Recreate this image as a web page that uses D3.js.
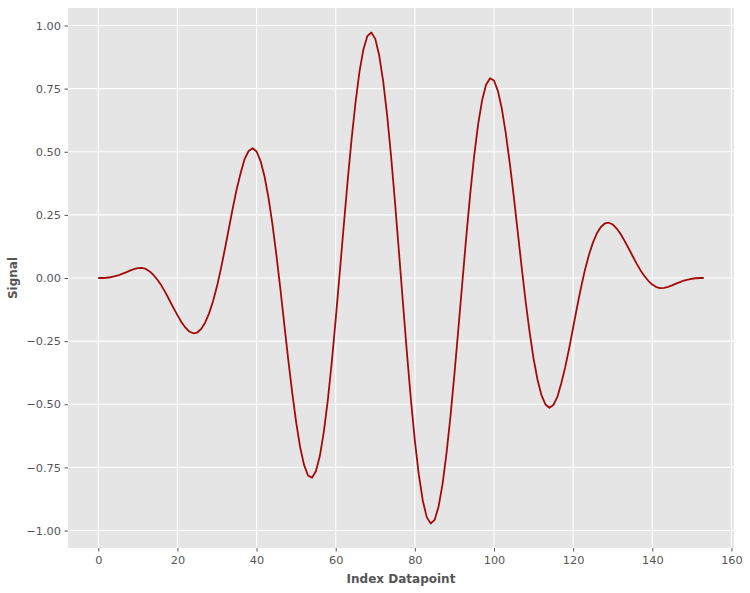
<!DOCTYPE html>
<html>
<head>
<meta charset="utf-8">
<script src="https://cdn.jsdelivr.net/npm/d3@7"></script>
<style>
  html, body { margin: 0; padding: 0; background: #ffffff; }
  svg { display: block; font-family: "DejaVu Sans", sans-serif; }
</style>
</head>
<body>
<svg id="chart" width="750" height="593"></svg>
<script>
// ---- data ----
const signal = [
  0.000, 0.000, 0.001, 0.003, 0.006, 0.010, 0.016, 0.022, 0.029, 0.035,
  0.039, 0.040, 0.036, 0.026, 0.011, -0.008, -0.031, -0.058, -0.088, -0.118,
  -0.147, -0.174, -0.196, -0.212, -0.219, -0.216, -0.202, -0.177, -0.140, -0.092,
  -0.033, 0.037, 0.115, 0.196, 0.278, 0.353, 0.417, 0.472, 0.503, 0.514,
  0.501, 0.464, 0.403, 0.319, 0.214, 0.093, -0.041, -0.183, -0.322, -0.453,
  -0.571, -0.669, -0.740, -0.782, -0.791, -0.765, -0.704, -0.609, -0.485, -0.334,
  -0.164, 0.018, 0.201, 0.381, 0.548, 0.694, 0.816, 0.905, 0.958, 0.972,
  0.947, 0.881, 0.779, 0.644, 0.481, 0.297, 0.100, -0.100, -0.297, -0.481,
  -0.644, -0.779, -0.881, -0.947, -0.972, -0.958, -0.905, -0.816, -0.694, -0.548,
  -0.381, -0.201, -0.018, 0.164, 0.334, 0.485, 0.609, 0.704, 0.765, 0.791,
  0.782, 0.740, 0.669, 0.571, 0.453, 0.322, 0.183, 0.041, -0.093, -0.214,
  -0.319, -0.403, -0.464, -0.501, -0.514, -0.503, -0.472, -0.417, -0.353, -0.278,
  -0.196, -0.115, -0.037, 0.033, 0.092, 0.140, 0.177, 0.202, 0.216, 0.219,
  0.212, 0.196, 0.174, 0.147, 0.118, 0.088, 0.058, 0.031, 0.008, -0.011,
  -0.026, -0.036, -0.040, -0.039, -0.035, -0.029, -0.022, -0.016, -0.010, -0.006,
  -0.003, -0.001, 0.000, 0.000
];
const xTicks = [0, 20, 40, 60, 80, 100, 120, 140, 160];
const yTicks = [-1.00, -0.75, -0.50, -0.25, 0.00, 0.25, 0.50, 0.75, 1.00];
const xLabel = "Index Datapoint";
const yLabel = "Signal";

// ---- layout ----
const W = 750, H = 593;
const plot = { left: 68, right: 734, top: 8, bottom: 548 };

const svg = d3.select("#chart");

const n = signal.length;
const xPad = (n - 1) * 0.05;
const yExt = d3.extent(signal);
const yPad = (yExt[1] - yExt[0]) * 0.05;

const x = d3.scaleLinear().domain([-xPad, (n - 1) + xPad]).range([plot.left, plot.right]);
const y = d3.scaleLinear().domain([yExt[0] - yPad, yExt[1] + yPad]).range([plot.bottom, plot.top]);

// background
svg.append("rect")
  .attr("x", plot.left).attr("y", plot.top)
  .attr("width", plot.right - plot.left).attr("height", plot.bottom - plot.top)
  .attr("fill", "#E5E5E5");

// grid
const grid = svg.append("g");
grid.selectAll("line.gx").data(xTicks).join("line")
  .attr("x1", d => x(d)).attr("x2", d => x(d))
  .attr("y1", plot.top).attr("y2", plot.bottom)
  .attr("stroke", "#ffffff").attr("stroke-width", 1.1);
grid.selectAll("line.gy").data(yTicks).join("line")
  .attr("y1", d => y(d)).attr("y2", d => y(d))
  .attr("x1", plot.left).attr("x2", plot.right)
  .attr("stroke", "#ffffff").attr("stroke-width", 1.1);

// axes
const xAxis = d3.axisBottom(x).tickValues(xTicks).tickSize(3.5).tickPadding(4).tickFormat(d3.format("d"));
const yAxis = d3.axisLeft(y).tickValues(yTicks).tickSize(3.5).tickPadding(3.5).tickFormat(d3.format(".2f"));

const gx = svg.append("g").attr("transform", `translate(0,${plot.bottom})`).call(xAxis);
const gy = svg.append("g").attr("transform", `translate(${plot.left},0)`).call(yAxis);
[gx, gy].forEach(g => {
  g.select(".domain").remove();
  g.selectAll(".tick line").attr("stroke", "#555555").attr("stroke-width", 1);
  g.selectAll(".tick text")
    .attr("fill", "#555555")
    .style("font-family", "'DejaVu Sans', sans-serif")
    .style("font-size", "11.3px");
});

// signal line
const line = d3.line()
  .x((d, i) => x(i))
  .y(d => y(d));
svg.append("path")
  .datum(signal)
  .attr("d", line)
  .attr("fill", "none")
  .attr("stroke", "#a50a0a")
  .attr("stroke-width", 1.8)
  .attr("stroke-linejoin", "round");

// axis labels
svg.append("text")
  .attr("x", (plot.left + plot.right) / 2)
  .attr("y", 582.5)
  .attr("text-anchor", "middle")
  .attr("fill", "#555555")
  .style("font-weight", "bold")
  .style("font-size", "12px")
  .text(xLabel);

svg.append("text")
  .attr("transform", `translate(16.5,${(plot.top + plot.bottom) / 2}) rotate(-90)`)
  .attr("text-anchor", "middle")
  .attr("fill", "#555555")
  .style("font-weight", "bold")
  .style("font-size", "12px")
  .text(yLabel);
</script>
</body>
</html>
